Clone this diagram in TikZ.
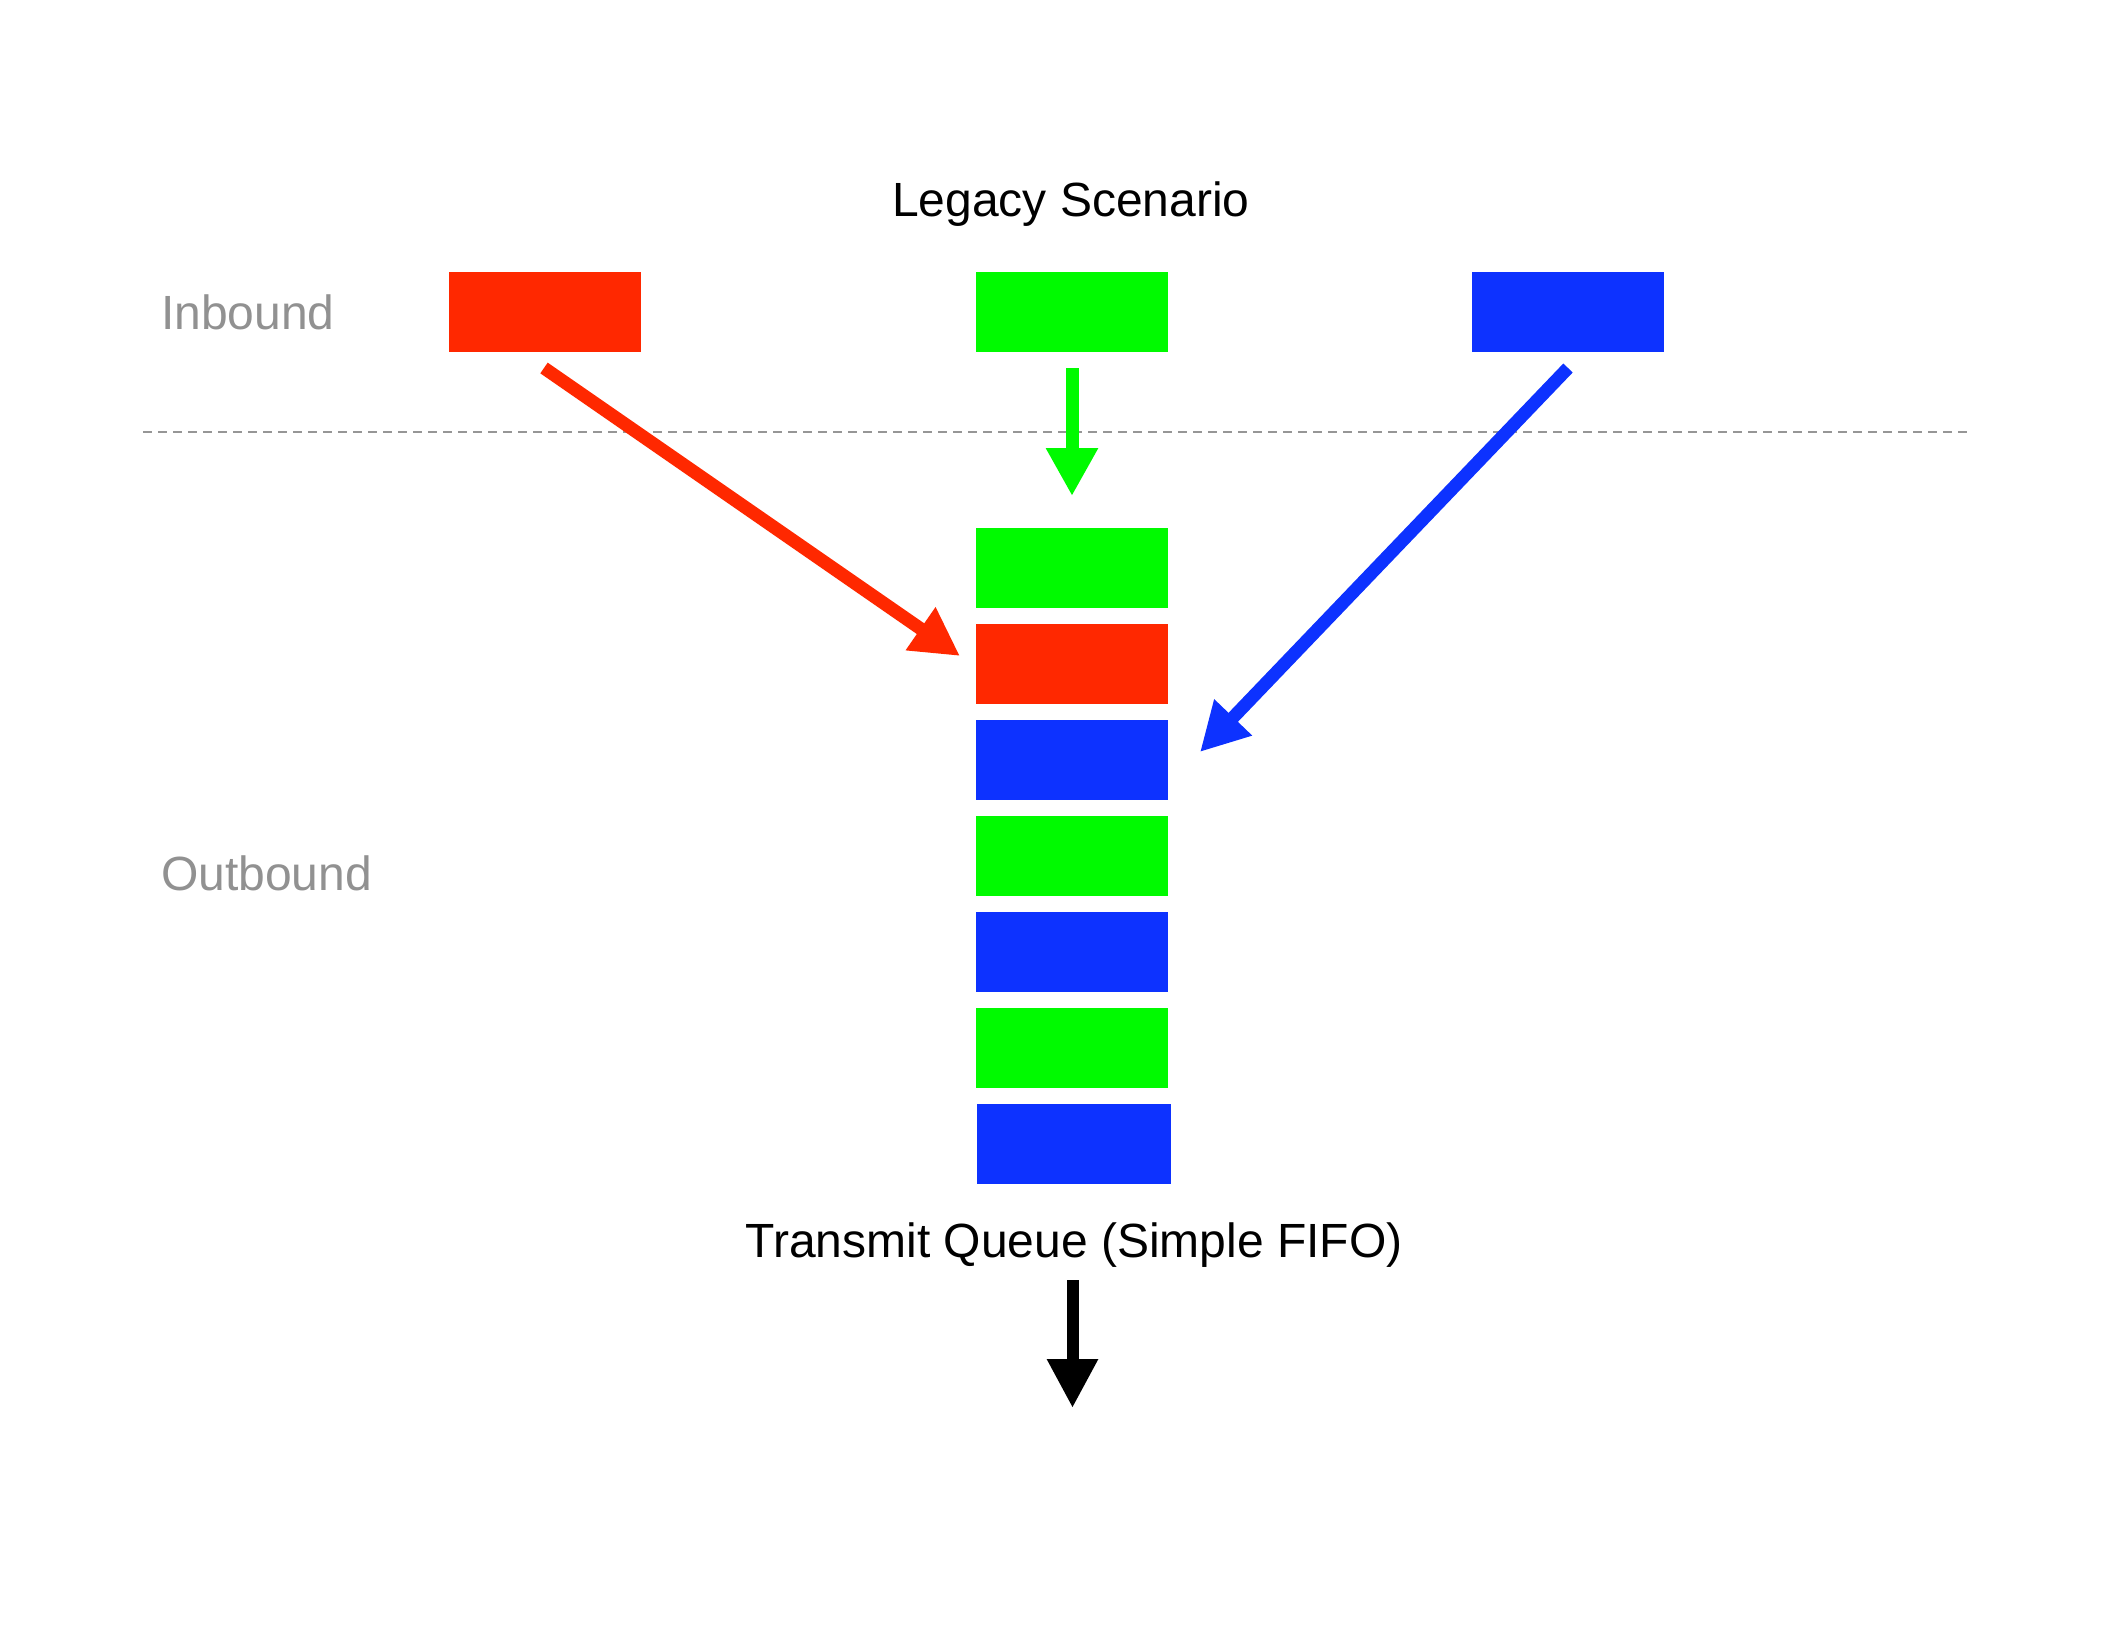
\documentclass[tikz,border=0pt]{standalone}
\usepackage{fontspec}
\setmainfont{Liberation Sans}
\usetikzlibrary{arrows.meta}
\definecolor{pred}{RGB}{255,40,0}
\definecolor{pgreen}{RGB}{0,250,0}
\definecolor{pblue}{RGB}{13,50,255}
\definecolor{lbl}{RGB}{145,145,145}
\definecolor{divgray}{RGB}{150,150,150}
\tikzset{
  pkt/.style={rectangle, inner sep=0pt, minimum width=192pt, minimum height=80pt, draw=none},
  txt/.style={inner sep=0pt, font=\fontsize{48pt}{56pt}\selectfont},
  flow/.style={line width=13pt, -{Triangle[length=48pt,width=49pt]}},
}
\begin{document}
\begin{tikzpicture}[x=1pt,y=-1pt]
\useasboundingbox[fill=white] (0,0) rectangle (2112,1632);
% labels
\node[txt, anchor=base] (title) at (1071,217) {Legacy Scenario};
\node[txt, anchor=base west, text=lbl] (inb) at (161,329) {Inbound};
\node[txt, anchor=base west, text=lbl] (outb) at (161,890) {Outbound};
\node[txt, anchor=base] (tq) at (1074,1257) {Transmit Queue (Simple FIFO)};
% divider
\coordinate (dl) at (143,432);
\coordinate (dr) at (1969,432);
\draw[draw=divgray, line width=2pt, dash pattern=on 9pt off 6pt] (dl) -- (dr);
% inbound packets
\node[pkt, fill=pred] (inR) at (544.5,312) {};
\node[pkt, fill=pgreen] (inG) at (1072,312) {};
\node[pkt, fill=pblue] (inB) at (1568,312) {};
% queue
\node[pkt, fill=pgreen] (q1) at (1072,568) {};
\node[pkt, fill=pred]   (q2) at (1072,664) {};
\node[pkt, fill=pblue]  (q3) at (1072,760) {};
\node[pkt, fill=pgreen] (q4) at (1072,856) {};
\node[pkt, fill=pblue]  (q5) at (1072,952) {};
\node[pkt, fill=pgreen] (q6) at (1072,1048) {};
\node[pkt, fill=pblue, minimum width=194pt]  (q7) at (1073.5,1144) {};
% arrow ends
\coordinate (rS) at (544,368);
\coordinate (rE) at (960,656);
\coordinate (gS) at (1072,368);
\coordinate (gE) at (1072,496);
\coordinate (bS) at (1568,368);
\coordinate (bE) at (1200,752);
\coordinate (kS) at (1072.5,1280);
\coordinate (kE) at (1072.5,1408);
\draw[flow, pred] (rS) -- (rE);
\draw[flow, pgreen] (gS) -- (gE);
\draw[flow, pblue] (bS) -- (bE);
\draw[flow, black, line width=12pt, -{Triangle[length=49pt,width=48pt]}] (kS) -- (kE);
\end{tikzpicture}
\end{document}
